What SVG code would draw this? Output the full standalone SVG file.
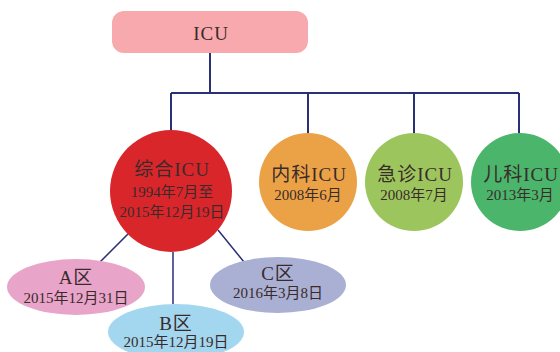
<svg xmlns="http://www.w3.org/2000/svg" width="560" height="352" viewBox="0 0 560 352">
<style>
text{font-family:"Liberation Serif","Noto Sans CJK SC",serif;fill:#3a2b2b;text-anchor:middle}
.t1{font-size:19px;letter-spacing:1px}
.t2{font-size:15px}
.c{stroke:#2b2f78;fill:none}
</style>
<rect width="560" height="352" fill="#fff"/>
<g id="connectors">
<path class="c" stroke-width="2" d="M210 53V93M171 93H519M171 93V131M308 93V133M414 93V133M519 93V133"/>
<path class="c" stroke-width="1.5" d="M100 262L128 234M173 252V304M218 230L244 262"/>
</g>
<g id="icu"><rect x="112" y="11" width="196" height="42" rx="12" fill="#f7a9ae"/><text class="t1" x="211" y="40">ICU</text></g>
<g id="zonghe"><circle cx="171" cy="191" r="61" fill="#d9262b"/>
<text class="t1" x="172" y="176">综合ICU</text><text class="t2" x="172" y="197">1994年7月至</text><text class="t2" x="172" y="217">2015年12月19日</text></g>
<g id="neike"><circle cx="308" cy="182" r="49" fill="#eba246"/><text class="t1" x="309" y="181">内科ICU</text><text class="t2" x="308" y="200">2008年6月</text></g>
<g id="jizhen"><circle cx="414" cy="182" r="49" fill="#9cc65d"/><text class="t1" x="415" y="181">急诊ICU</text><text class="t2" x="414" y="200">2008年7月</text></g>
<g id="erke"><circle cx="520" cy="182" r="49" fill="#4bb56b"/><text class="t1" x="521" y="181">儿科ICU</text><text class="t2" x="520" y="200">2013年3月</text></g>
<g id="a"><ellipse cx="76" cy="287" rx="69" ry="28" fill="#e9a4ca"/><text class="t1" x="76" y="284">A区</text><text class="t2" x="76" y="303">2015年12月31日</text></g>
<g id="b"><ellipse cx="176" cy="332" rx="68" ry="28" fill="#a3d7ef"/><text class="t1" x="176" y="330">B区</text><text class="t2" x="176" y="347">2015年12月19日</text></g>
<g id="cz"><ellipse cx="278" cy="285" rx="68" ry="28" fill="#aab0d3"/><text class="t1" x="278" y="280">C区</text><text class="t2" x="278" y="298">2016年3月8日</text></g>
</svg>
